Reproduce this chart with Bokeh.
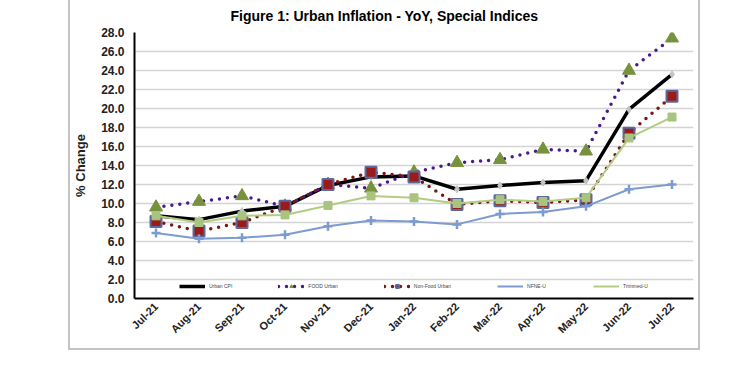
from bokeh.plotting import figure
from bokeh.models import (Range1d, FactorRange, Legend, LegendItem,
                          FixedTicker, PrintfTickFormatter)
from bokeh.embed import file_html
from bokeh.resources import INLINE
import math

months = ["Jul-21", "Aug-21", "Sep-21", "Oct-21", "Nov-21", "Dec-21", "Jan-22",
          "Feb-22", "Mar-22", "Apr-22", "May-22", "Jun-22", "Jul-22"]
urban_cpi = [8.7, 8.3, 9.2, 9.7, 11.9, 12.8, 12.9, 11.5, 11.9, 12.2, 12.4, 19.9, 23.6]
food_urban = [9.6, 10.2, 10.8, 9.7, 12.0, 11.6, 13.3, 14.3, 14.6, 15.7, 15.5, 24.0, 27.4]
nonfood_urban = [8.1, 7.1, 8.0, 9.7, 12.0, 13.3, 12.8, 9.9, 10.3, 10.1, 10.4, 17.4, 21.3]
nfne_u = [6.9, 6.3, 6.4, 6.7, 7.6, 8.2, 8.1, 7.8, 8.9, 9.1, 9.7, 11.5, 12.0]
trimmed_u = [8.7, 8.0, 8.7, 8.8, 9.8, 10.8, 10.6, 10.0, 10.4, 10.2, 10.6, 16.9, 19.1]
y_ticks = [0, 2, 4, 6, 8, 10, 12, 14, 16, 18, 20, 22, 24, 26, 28]
title_text = "Figure 1: Urban Inflation - YoY, Special Indices"
legend_labels = ["Urban CPI", "FOOD Urban", "Non-Food Urban", "NFNE-U", "Trimmed-U"]

FONT = "Liberation Sans"

p = figure(width=632, height=350, x_range=FactorRange(*months), y_range=Range1d(0, 28),
           output_backend="svg", toolbar_location=None,
           min_border_left=62, min_border_right=9, min_border_top=32, min_border_bottom=52)
p.styles = {"margin-left": "68px",
            "border-left": "2px solid #c4c4c4",
            "border-right": "2px solid #c4c4c4",
            "border-bottom": "2px solid #c4c4c4"}
p.outline_line_color = None
p.background_fill_color = "white"
p.border_fill_color = "white"

# title
p.title.text = title_text
p.title.align = "left"
p.title.offset = 96
p.title.standoff = 14
p.title.vertical_align = "top"
p.title.text_font = FONT
p.title.text_font_style = "bold"
p.title.text_font_size = "14px"
p.title.text_color = "#000000"

# grid
p.xgrid.grid_line_color = None
p.ygrid.grid_line_color = "#d4d4d4"
p.ygrid.grid_line_width = 1.5
p.ygrid.ticker = FixedTicker(ticks=y_ticks)

# y axis
p.yaxis.ticker = FixedTicker(ticks=y_ticks)
p.yaxis.formatter = PrintfTickFormatter(format="%.1f")
p.yaxis.axis_line_color = "black"
p.yaxis.axis_line_width = 2
p.yaxis.major_tick_line_color = None
p.yaxis.minor_tick_line_color = None
p.yaxis.major_tick_out = 0
p.yaxis.major_tick_in = 0
p.yaxis.major_label_standoff = 10
p.yaxis.major_label_text_font = FONT
p.yaxis.major_label_text_font_style = "bold"
p.yaxis.major_label_text_font_size = "12px"
p.yaxis.major_label_text_color = "#222222"
p.yaxis.axis_label = "% Change"
p.yaxis.axis_label_text_font = FONT
p.yaxis.axis_label_text_font_style = "bold"
p.yaxis.axis_label_text_font_size = "13px"
p.yaxis.axis_label_text_color = "#222222"
p.yaxis.axis_label_standoff = 10

# x axis
p.xaxis.axis_line_color = "black"
p.xaxis.axis_line_width = 2
p.xaxis.major_tick_line_color = None
p.xaxis.minor_tick_line_color = None
p.xaxis.major_tick_out = 0
p.xaxis.major_tick_in = 0
p.xaxis.major_label_standoff = 6
p.xaxis.major_label_orientation = math.pi / 4
p.xaxis.major_label_text_font = FONT
p.xaxis.major_label_text_font_style = "bold"
p.xaxis.major_label_text_font_size = "11px"
p.xaxis.major_label_text_color = "#222222"

# series
r1 = p.line(months, urban_cpi, line_color="black", line_width=3.5)
r1m = p.scatter(months, urban_cpi, marker="diamond", size=7, fill_color="#c4c4c4",
                line_color="#c4c4c4")

r2 = p.line(months, food_urban, line_color="#4a1a8a", line_width=3.5,
            line_dash="0 8", line_cap="round")
r2m = p.scatter(months, food_urban, marker="triangle", size=13, fill_color="#76923c",
                line_color="#76923c")

r3 = p.line(months, nonfood_urban, line_color="#7a1515", line_width=3.5,
            line_dash="0 8", line_cap="round")
r3m = p.scatter(months, nonfood_urban, marker="square", size=11, fill_color="#9b1b1b",
                line_color="#5a6a9e", line_width=2)

r4 = p.line(months, nfne_u, line_color="#7b9bd1", line_width=2)
r4m = p.scatter(months, nfne_u, marker="cross", size=9, line_color="#7b9bd1", line_width=2.5)

r5 = p.line(months, trimmed_u, line_color="#b3cc82", line_width=2)
r5m = p.scatter(months, trimmed_u, marker="square", size=8, fill_color="#a9c47f",
                line_color="#a9c47f")

legend = Legend(items=[
    LegendItem(label=legend_labels[0], renderers=[r1]),
    LegendItem(label=legend_labels[1], renderers=[r2, r2m]),
    LegendItem(label=legend_labels[2], renderers=[r3, r3m]),
    LegendItem(label=legend_labels[3], renderers=[r4]),
    LegendItem(label=legend_labels[4], renderers=[r5]),
], location=(45, 8), orientation="horizontal", padding=0, margin=0, spacing=46,
    glyph_width=26, glyph_height=8, label_standoff=4, label_text_font=FONT,
    label_text_font_size="5px", label_height=8, border_line_color=None,
    background_fill_alpha=0)
p.add_layout(legend, "center")

open("out.html", "w").write(file_html(p, INLINE))
